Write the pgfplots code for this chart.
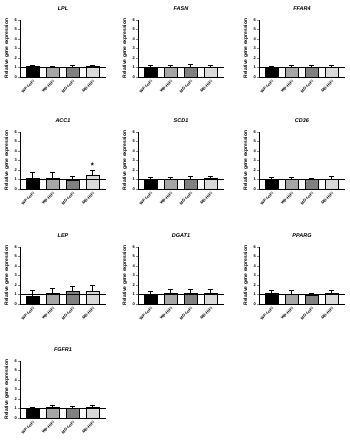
\documentclass[border=0pt]{standalone}
\usepackage{pgfplots}
\pgfplotsset{compat=1.18}
\usepackage{fontspec}
\setmainfont{Liberation Sans}
\definecolor{cA}{HTML}{000000}
\definecolor{cB}{HTML}{A6A6A6}
\definecolor{cC}{HTML}{808080}
\definecolor{cD}{HTML}{D9D9D9}
\pgfplotsset{
  panel/.style={
    scale only axis, width=86bp, height=57bp,
    anchor=south west,
    ymin=0, ymax=6, ytick={0,1,2,3,4,5,6},
    xmin=-0.625, xmax=3.675,
    xtick={0,1,2,3},
    xticklabels={WP-LoFi,WP-HiFi,MD-LoFi,MD-HiFi},
    axis x line=bottom, axis y line=left,
    axis line style={-, line width=0.5bp},
    x tick style={draw=none},
    y tick style={line width=0.4bp},
    tick align=outside, major tick length=2bp,
    /pgf/number format/assume math mode=true,
    tick label style={font=\fontsize{4}{4.5}\selectfont\bfseries},
    x tick label style={rotate=45, anchor=north east, inner sep=0.5bp},
    y tick label style={inner sep=1bp},
    ylabel={Relative gene expression},
    ylabel style={font=\fontsize{5}{6}\selectfont\bfseries, yshift=1bp},
    title style={font=\fontsize{5.5}{6.5}\selectfont\bfseries\itshape, yshift=0bp},
    clip=false,
  },
  barp/.style={ybar, bar width=0.65, bar shift=0pt, draw=black, line width=0.3bp,
    error bars/.cd, y dir=plus, y explicit,
    error bar style={line width=0.4bp, black},
    error mark options={rotate=90, mark size=2.6bp, line width=0.4bp, black}},
}
\newcommand\bars[8]{%
  \addplot[fill=cA, barp] coordinates {(0,#1) +- (0,#2)};
  \addplot[fill=cB, barp] coordinates {(1,#3) +- (0,#4)};
  \addplot[fill=cC, barp] coordinates {(2,#5) +- (0,#6)};
  \addplot[fill=cD, barp] coordinates {(3,#7) +- (0,#8)};
  \addplot[black, line width=0.6bp] coordinates {(-0.625,1) (3.675,1)};
}
\begin{document}
\begin{tikzpicture}
\useasboundingbox (0,0) rectangle (350bp,446bp);
% Row 1
\begin{axis}[panel, at={(20bp,369bp)}, title={LPL}]
\bars{1.10}{0.18}{1.03}{0.14}{1.02}{0.26}{1.10}{0.18}
\end{axis}
\begin{axis}[panel, at={(138bp,369bp)}, title={FASN}]
\bars{1.00}{0.20}{1.05}{0.20}{1.05}{0.30}{1.00}{0.20}
\end{axis}
\begin{axis}[panel, at={(259bp,369bp)}, title={FFAR4}]
\bars{1.00}{0.18}{1.05}{0.20}{1.00}{0.25}{1.05}{0.20}
\end{axis}
% Row 2
\begin{axis}[panel, at={(20bp,257bp)}, title={ACC1}]
\bars{1.17}{0.59}{1.17}{0.59}{0.93}{0.45}{1.41}{0.62}
\node[font=\fontsize{8}{8}\selectfont\bfseries] at (axis cs:3,2.45) {*};
\end{axis}
\begin{axis}[panel, at={(138bp,257bp)}, title={SCD1}]
\bars{1.00}{0.20}{1.05}{0.17}{1.05}{0.25}{1.10}{0.20}
\end{axis}
\begin{axis}[panel, at={(259bp,257bp)}, title={CD36}]
\bars{1.00}{0.20}{1.05}{0.17}{1.00}{0.12}{1.05}{0.25}
\end{axis}
% Row 3
\begin{axis}[panel, at={(20bp,142bp)}, title={LEP}]
\bars{0.85}{0.58}{1.09}{0.58}{1.30}{0.58}{1.33}{0.68}
\end{axis}
\begin{axis}[panel, at={(138bp,142bp)}, title={DGAT1}]
\bars{1.05}{0.25}{1.10}{0.50}{1.10}{0.45}{1.10}{0.50}
\end{axis}
\begin{axis}[panel, at={(259bp,142bp)}, title={PPARG}]
\bars{1.10}{0.30}{1.05}{0.35}{0.95}{0.20}{1.10}{0.35}
\end{axis}
% Row 4
\begin{axis}[panel, at={(20bp,28bp)}, title={FGFR1}]
\bars{1.00}{0.10}{1.10}{0.20}{1.05}{0.20}{1.10}{0.20}
\end{axis}
\end{tikzpicture}
\end{document}
